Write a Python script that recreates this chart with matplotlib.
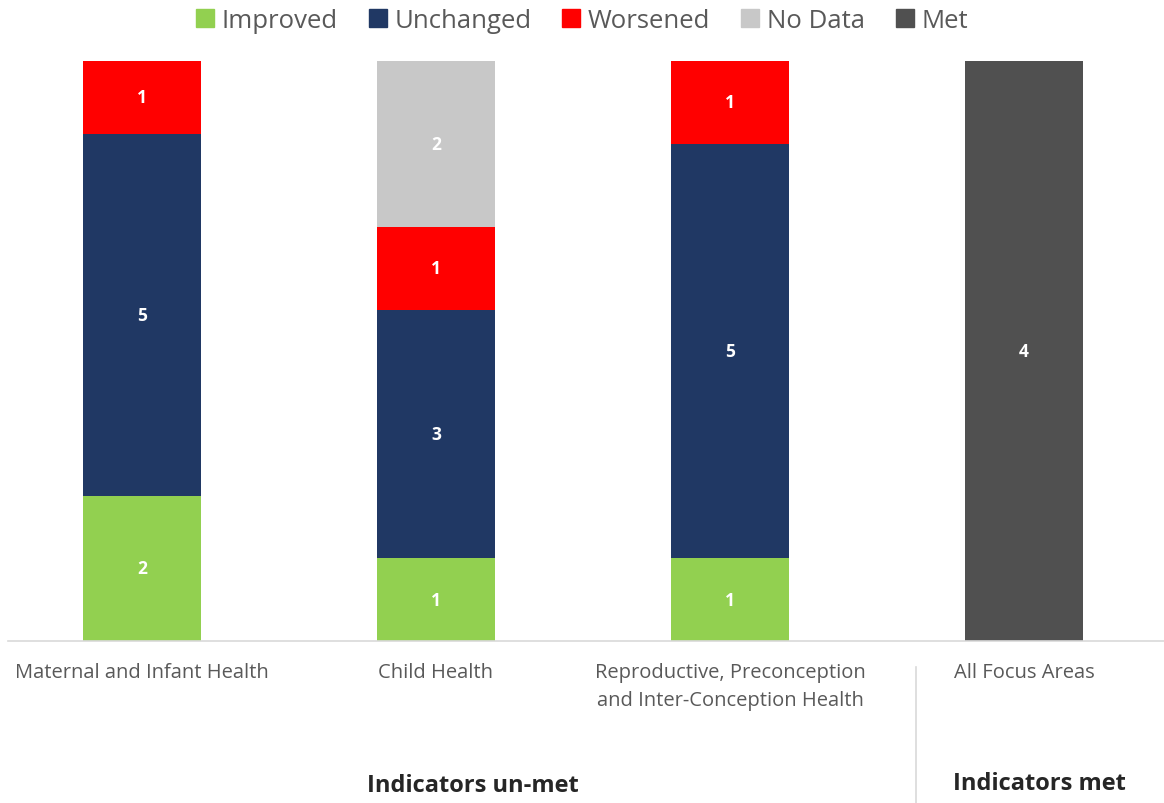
import numpy as np
import matplotlib.pyplot as plt
from matplotlib.patches import Patch
from matplotlib.transforms import blended_transform_factory

categories = ["Maternal and Infant Health", "Child Health",
              "Reproductive, Preconception\nand Inter-Conception Health", "All Focus Areas"]
series = ["Improved", "Unchanged", "Worsened", "No Data", "Met"]
improved = [2, 1, 1, 0]
unchanged = [5, 3, 5, 0]
worsened = [1, 1, 1, 0]
no_data = [0, 2, 0, 0]
met = [0, 0, 0, 4]
colors = ["#92d050", "#203864", "#ff0000", "#c8c8c8", "#505050"]

plt.rcParams['font.family'] = ['Open Sans', 'DejaVu Sans']
text_col = "#595959"

counts = np.array([improved, unchanged, worsened, no_data, met], dtype=float)
totals = counts.sum(axis=0)
shares = counts / totals

W, H = 1164, 804
fig = plt.figure(figsize=(W / 100, H / 100), dpi=100)
ax = fig.add_axes([8 / W, 1 - 642 / H, (W - 8) / W, (642 - 62) / H])

x = np.arange(len(categories))
bottom = np.zeros(len(categories))
for i, name in enumerate(series):
    ax.bar(x, shares[i], bottom=bottom, width=0.40, color=colors[i], label=name)
    for j in range(len(categories)):
        if counts[i, j] > 0:
            ax.text(x[j], bottom[j] + shares[i, j] / 2, f"{int(counts[i, j])}",
                    ha='center', va='center', color='white', fontsize=12.5, fontweight='bold')
    bottom += shares[i]

ax.set_xlim(-(142 - 8) / 294, (W - 142) / 294)
ax.set_ylim(0, 1)
ax.set_yticks([])
ax.set_xticks(x)
ax.set_xticklabels(categories, fontsize=14.5, color=text_col, linespacing=1.55)
ax.tick_params(axis='x', length=0, pad=15)
for s in ['top', 'right', 'left']:
    ax.spines[s].set_visible(False)
ax.spines['bottom'].set_color('#d9d9d9')
ax.spines['bottom'].set_linewidth(1.2)

handles = [Patch(color=c) for c in colors]
fig.legend(handles, series, loc='center', bbox_to_anchor=(0.5, 1 - 21 / H), ncol=5,
           frameon=False, fontsize=18.5, handlelength=0.7, handleheight=0.7,
           handletextpad=0.3, columnspacing=1.2, labelcolor=text_col)

# group captions and the divider between un-met and met
tr = blended_transform_factory(ax.transData, fig.transFigure)
ax.text((473 - 142) / 294, 1 - 786 / H, "Indicators un-met", transform=tr,
        ha='center', va='center', fontsize=17, fontweight='bold', color='#262626')
ax.text((1039 - 142) / 294, 1 - 784 / H, "Indicators met", transform=tr,
        ha='center', va='center', fontsize=17, fontweight='bold', color='#262626')
ax.plot([(916 - 142) / 294] * 2, [1 - 668 / H, 0], transform=tr,
        color='#d9d9d9', linewidth=1.2, clip_on=False)

fig.savefig("out.png", dpi=100, facecolor='white')
